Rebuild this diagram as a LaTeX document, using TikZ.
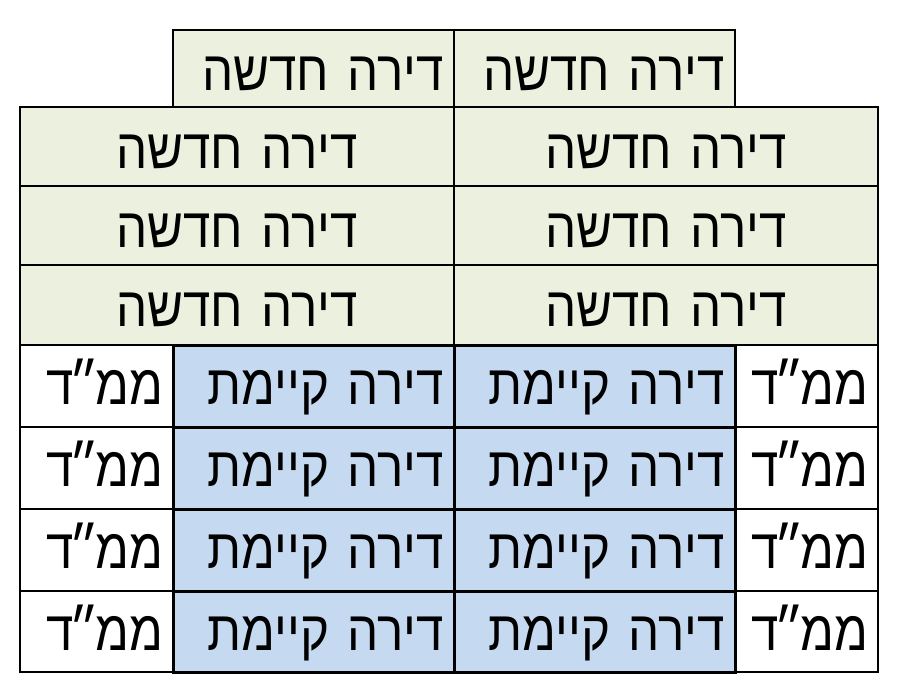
\documentclass[tikz,border=0pt]{standalone}
\usepackage{fontspec}
\newfontfamily\heb[Script=Hebrew,FakeStretch=0.88]{Liberation Sans}
\TeXXeTstate=1
\definecolor{gfill}{HTML}{EBF1DE}
\definecolor{bfill}{HTML}{C5D9F1}
\tikzset{
  cellbase/.style={draw=black, line width=1.2pt, rectangle, inner xsep=10pt, inner ysep=0pt,
    font=\heb\fontsize{56}{60}\selectfont, text depth=0pt},
  gcell/.style={cellbase, fill=gfill, text height=43pt},
  wcell/.style={cellbase, fill=white, text height=37pt},
  bcell/.style={cellbase, fill=bfill, line width=3pt, text height=37pt},
  sz/.style 2 args={minimum width=#1pt, minimum height=#2pt, text width=#1pt-20pt},
}
\newcommand{\rtl}[1]{\beginR #1\endR}
\newcommand{\mamad}{\rtl{ממ\kern-4pt״\kern-4ptד}}
\begin{document}
\begin{tikzpicture}[x=1pt,y=-1pt]
\useasboundingbox (0,0) rectangle (904,689);
% row 1
\node[gcell, sz={281}{77}, align=right] (r1a) at (313.5,68.5) {\rtl{דירה חדשה}};
\node[gcell, sz={281}{77}, align=right] (r1b) at (594.5,68.5) {\rtl{דירה חדשה}};
% rows 2-4
\node[gcell, sz={434}{79}, align=center] (r2a) at (237,146.5) {\rtl{דירה חדשה}};
\node[gcell, sz={424}{79}, align=center] (r2b) at (666,146.5) {\rtl{דירה חדשה}};
\node[gcell, sz={434}{79}, align=center] (r3a) at (237,225.5) {\rtl{דירה חדשה}};
\node[gcell, sz={424}{79}, align=center] (r3b) at (666,225.5) {\rtl{דירה חדשה}};
\node[gcell, sz={434}{80}, align=center] (r4a) at (237,305) {\rtl{דירה חדשה}};
\node[gcell, sz={424}{80}, align=center] (r4b) at (666,305) {\rtl{דירה חדשה}};
% rows 5-8 white
\foreach \y/\h/\n in {386/82/5,468/82/6,550/82/7,631.5/81/8}{
  \node[wcell, sz={153}{\h}, align=right] (m\n a) at (96.5,\y) {\mamad};
  \node[wcell, sz={143}{\h}, align=right] (m\n b) at (806.5,\y) {\mamad};
}
% blue cells
\foreach \y/\h/\n in {386/82/5,468/82/6,550/82/7,631.5/81/8}{
  \node[bcell, sz={281}{\h}, align=right] (k\n a) at (313.5,\y) {\rtl{דירה קיימת}};
  \node[bcell, sz={281}{\h}, align=right] (k\n b) at (594.5,\y) {\rtl{דירה קיימת}};
}
\end{tikzpicture}
\end{document}
